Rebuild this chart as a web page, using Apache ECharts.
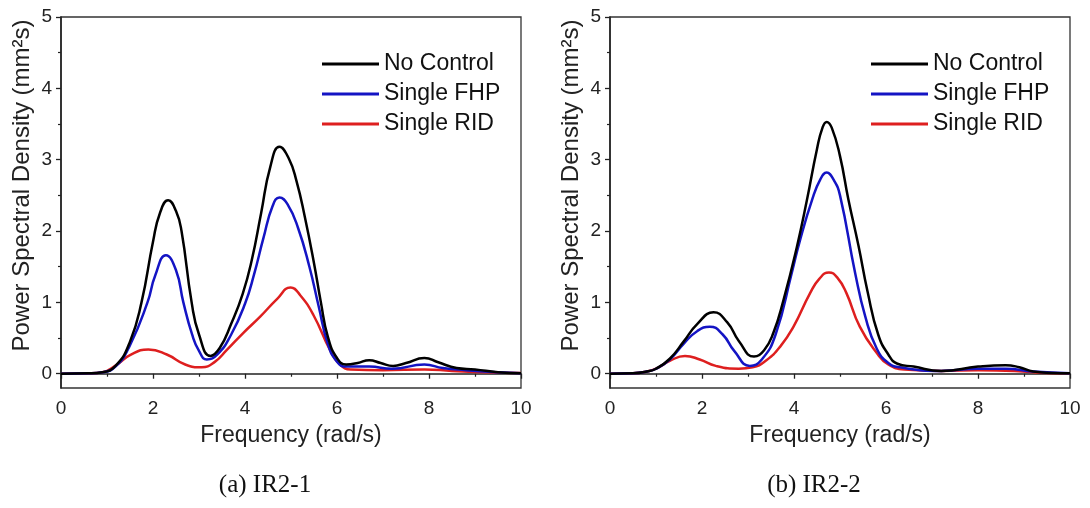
<!DOCTYPE html>
<html>
<head>
<meta charset="utf-8">
<script src="https://cdn.jsdelivr.net/npm/echarts@6/dist/echarts.min.js"></script>
<style>
  html, body { margin: 0; padding: 0; background: #fff; }
  #chart { width: 1090px; height: 508px; }
</style>
</head>
<body>
<div id="chart"></div>
<script>
// Power spectral density (mm²s) against frequency (rad/s), as [frequency, density] pairs

// (a) IR2-1
const ir1NoControl = [[0, 0], [0.6, 0.005], [0.9, 0.02], [1.2, 0.12], [1.5, 0.45], [1.75, 1.0],
  [2.0, 1.85], [2.15, 2.25], [2.33, 2.43], [2.5, 2.28], [2.62, 2.0], [2.84, 1.0], [3.0, 0.55],
  [3.25, 0.25], [3.45, 0.36], [3.7, 0.7], [3.95, 1.12], [4.15, 1.6], [4.35, 2.25], [4.55, 2.9],
  [4.75, 3.18], [4.95, 3.02], [5.12, 2.7], [5.3, 2.2], [5.5, 1.55], [5.65, 1.0],
  [5.8, 0.52], [6.0, 0.22], [6.2, 0.13], [6.45, 0.15], [6.7, 0.19], [6.95, 0.15], [7.22, 0.11],
  [7.5, 0.15], [7.9, 0.22], [8.2, 0.16], [8.6, 0.08], [9.0, 0.06], [9.5, 0.02], [10, 0.005]];
const ir1SingleFHP = [[0, 0], [0.6, 0.005], [0.9, 0.02], [1.2, 0.11], [1.5, 0.4], [1.88, 1.0],
  [2.05, 1.38], [2.28, 1.66], [2.5, 1.45], [2.66, 1.0], [2.85, 0.55], [3.0, 0.32], [3.17, 0.2],
  [3.4, 0.27], [3.7, 0.55], [4.0, 0.98], [4.2, 1.4], [4.4, 1.9], [4.6, 2.35], [4.75, 2.47],
  [4.92, 2.38], [5.15, 2.05], [5.4, 1.5], [5.6, 0.95], [5.8, 0.42], [6.0, 0.17], [6.2, 0.1],
  [6.7, 0.1], [7.2, 0.07], [7.9, 0.13], [8.3, 0.08], [8.8, 0.05], [9.5, 0.02], [10, 0.005]];
const ir1SingleRID = [[0, 0], [0.6, 0.005], [0.9, 0.02], [1.2, 0.12], [1.5, 0.26], [1.9, 0.34],
  [2.3, 0.27], [2.7, 0.13], [3.06, 0.09], [3.35, 0.17], [3.6, 0.33], [3.96, 0.57], [4.33, 0.8],
  [4.7, 1.05], [4.99, 1.21], [5.2, 1.1], [5.49, 0.82], [5.85, 0.33], [6.05, 0.14], [6.3, 0.06],
  [7.0, 0.05], [7.9, 0.06], [8.5, 0.04], [9.2, 0.02], [10, 0.01]];

// (b) IR2-2
const ir2NoControl = [[0, 0], [0.5, 0.005], [0.8, 0.03], [1.0, 0.07], [1.3, 0.21], [1.6, 0.45],
  [1.9, 0.7], [2.25, 0.86], [2.55, 0.72], [2.8, 0.46], [3.13, 0.24], [3.35, 0.33], [3.55, 0.57],
  [3.77, 1.03], [4.06, 1.77], [4.28, 2.43], [4.5, 3.15], [4.62, 3.45], [4.71, 3.53], [4.82, 3.45],
  [5.0, 3.05], [5.18, 2.45], [5.4, 1.8], [5.6, 1.15], [5.83, 0.55], [6.05, 0.27], [6.25, 0.14],
  [6.6, 0.1], [7.2, 0.04], [8.0, 0.1], [8.6, 0.12], [8.9, 0.09], [9.2, 0.03], [9.6, 0.01], [10, 0.005]];
const ir2SingleFHP = [[0, 0], [0.5, 0.005], [0.8, 0.03], [1.0, 0.07], [1.3, 0.2], [1.6, 0.42],
  [1.9, 0.6], [2.17, 0.66], [2.45, 0.55], [2.7, 0.32], [3.04, 0.11], [3.3, 0.2], [3.6, 0.55],
  [3.95, 1.41], [4.13, 1.87], [4.4, 2.45], [4.57, 2.72], [4.71, 2.82], [4.86, 2.72], [5.0, 2.5],
  [5.33, 1.41], [5.55, 0.8], [5.8, 0.35], [6.05, 0.15], [6.3, 0.09], [7.2, 0.04], [8.0, 0.07],
  [8.6, 0.07], [9.2, 0.03], [10, 0.005]];
const ir2SingleRID = [[0, 0], [0.5, 0.005], [0.8, 0.03], [1.0, 0.07], [1.3, 0.18], [1.63, 0.25],
  [1.95, 0.2], [2.3, 0.11], [2.8, 0.07], [3.1, 0.09], [3.4, 0.19], [3.7, 0.38], [3.99, 0.66],
  [4.35, 1.13], [4.55, 1.33], [4.76, 1.42], [4.95, 1.34], [5.14, 1.13], [5.43, 0.66], [5.8, 0.29],
  [6.05, 0.13], [6.4, 0.06], [7.2, 0.04], [8.0, 0.05], [8.8, 0.04], [9.5, 0.01], [10, 0.005]];

// Axis tick values and labels
const yMajorTicks = [0, 1, 2, 3, 4, 5];
const yMinorTicks = [0.5, 1.5, 2.5, 3.5, 4.5];
const seriesNames = ['No Control', 'Single FHP', 'Single RID'];
const seriesColors = ['#000000', '#1414c4', '#de1f1f'];
const xAxisTitle = 'Frequency (rad/s)';
const yAxisTitle = 'Power Spectral Density (mm²s)';
const captions = ['(a) IR2-1', '(b) IR2-2'];

const panels = [
  { left: 61, data: [ir1NoControl, ir1SingleFHP, ir1SingleRID] },
  { left: 610, data: [ir2NoControl, ir2SingleFHP, ir2SingleRID] }
];

const axisColor = '#222';
const labelFont = 'Arial, "Liberation Sans", sans-serif';

const grids = [], xAxes = [], yAxes = [], series = [], legends = [], graphics = [];

panels.forEach((p, i) => {
  grids.push({
    left: p.left, top: 17, width: 460, height: 371,
    show: true, borderColor: '#333', borderWidth: 1.3, backgroundColor: 'transparent'
  });
  xAxes.push({
    type: 'value', gridIndex: i, min: 0, max: 10, interval: 2,
    name: xAxisTitle, nameLocation: 'middle', nameGap: 36,
    nameTextStyle: { fontFamily: labelFont, fontSize: 23, color: axisColor },
    axisLine: { lineStyle: { color: axisColor, width: 1.6 } },
    axisTick: { show: true, inside: false, length: 5, lineStyle: { color: axisColor, width: 1.3 } },
    minorTick: { show: true, splitNumber: 2, length: 3, lineStyle: { color: axisColor, width: 1.2 } },
    axisLabel: { fontFamily: labelFont, fontSize: 19, color: axisColor, margin: 11 },
    splitLine: { show: false }, minorSplitLine: { show: false }
  });
  // main value axis with labelled major ticks
  yAxes.push({
    type: 'value', gridIndex: i, min: -0.2, max: 5,
    name: yAxisTitle, nameLocation: 'middle', nameGap: 27, nameRotate: 90,
    nameTextStyle: { fontFamily: labelFont, fontSize: 24, color: axisColor, padding: [0, 0, 0, 34] },
    axisLine: { show: true, lineStyle: { color: axisColor, width: 1.6 } },
    axisTick: { show: true, inside: false, length: 5, customValues: yMajorTicks, lineStyle: { color: axisColor, width: 1.3 } },
    axisLabel: { fontFamily: labelFont, fontSize: 19, color: axisColor, margin: 9, customValues: yMajorTicks },
    splitLine: { show: false }
  });
  // companion axis carrying only the short minor ticks
  yAxes.push({
    type: 'value', gridIndex: i, min: -0.2, max: 5, position: 'left',
    axisLine: { show: false },
    axisTick: { show: true, inside: false, length: 3, customValues: yMinorTicks, lineStyle: { color: axisColor, width: 1.2 } },
    axisLabel: { show: false },
    splitLine: { show: false }
  });
  seriesNames.forEach((name, k) => {
    series.push({
      type: 'line', name: name, xAxisIndex: i, yAxisIndex: 2 * i,
      data: p.data[k],
      smooth: 0.5, showSymbol: false, symbol: 'none',
      lineStyle: { color: seriesColors[k], width: 2.5 },
      itemStyle: { color: seriesColors[k] },
      z: 10 - k
    });
  });
  legends.push({
    data: seriesNames, orient: 'vertical', left: p.left + 256, top: 46,
    icon: 'rect', itemWidth: 57, itemHeight: 3, itemGap: 4,
    textStyle: { fontFamily: labelFont, fontSize: 23, color: '#111', lineHeight: 26 },
    selectedMode: false
  });
  graphics.push({
    type: 'text', x: p.left + 204, y: 485,
    style: {
      text: captions[i], fontFamily: '"Liberation Serif", "Times New Roman", serif', fontSize: 25,
      fill: '#111', textAlign: 'center', textVerticalAlign: 'middle'
    }
  });
});

const chart = echarts.init(document.getElementById('chart'), null, { renderer: 'canvas' });
chart.setOption({
  animation: false,
  backgroundColor: '#ffffff',
  grid: grids,
  xAxis: xAxes,
  yAxis: yAxes,
  legend: legends,
  series: series,
  graphic: graphics
});
</script>
</body>
</html>
